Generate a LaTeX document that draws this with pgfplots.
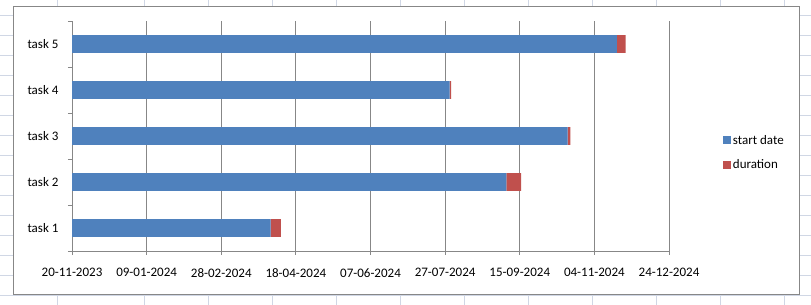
\documentclass[border=0pt]{standalone}
\usepackage{fontspec}
\setmainfont{Carlito}
\usepackage{pgfplots}
\pgfplotsset{compat=1.18}
\definecolor{xlblue}{HTML}{4F81BD}
\definecolor{xlred}{HTML}{C0504D}
\definecolor{xlgrid}{HTML}{878787}
\definecolor{cellline}{HTML}{D0D7E5}
\begin{document}
\begin{tikzpicture}
\useasboundingbox (0pt,0pt) rectangle (811pt,305pt);
\fill[white] (0pt,0pt) rectangle (811pt,305pt);
\foreach \x in {57,144,208,272,336,400,464,528,592,656,720,784}
  \draw[cellline, line width=0.8pt] (\x pt,0pt) -- (\x pt,305pt);
\foreach \y in {10,30,...,290}
  \draw[cellline, line width=0.8pt] (0pt,\y pt) -- (811pt,\y pt);
\filldraw[fill=white, draw=xlgrid, line width=1pt] (13pt,10pt) rectangle (799pt,298pt);
\begin{axis}[
  at={(72pt,54pt)}, anchor=south west,
  scale only axis, width=597pt, height=230pt,
  xbar stacked, bar width=17.7pt,
  xmin=0, xmax=400, ymin=0.5, ymax=5.5,
  axis x line*=bottom, axis y line*=left,
  axis line style={xlgrid, line width=0.9pt},
  tick style={xlgrid, line width=0.9pt},
  tick align=outside, major tick length=4pt,
  xmajorgrids, grid style={xlgrid, line width=0.9pt},
  xtick={0,50,...,400},
  xticklabels={20-11-2023,09-01-2024,28-02-2024,18-04-2024,07-06-2024,27-07-2024,15-09-2024,04-11-2024,24-12-2024},
  ytick={0.5,1.5,...,5.5},
  yticklabels={task 1,task 2,task 3,task 4,task 5,{}},
  y tick label style={yshift=23pt, xshift=-6pt},
  tick label style={font=\fontsize{13}{15}\selectfont, text=black},
  x tick label style={yshift=-10pt},
  legend style={at={(1.085,0.428)}, anchor=west, draw=none, fill=none,
    font=\fontsize{13}{15}\selectfont, row sep=10pt},
  legend cell align=left,
  legend image code/.code={\fill[#1] (0pt,-4pt) rectangle (8pt,4pt);},
]
\addplot[fill=xlblue, draw=none] coordinates {(133,1) (291,2) (332,3) (253,4) (365,5)};
\addplot[fill=xlred, draw=none] coordinates {(7,1) (10,2) (2,3) (1,4) (6,5)};
\legend{start date, duration}
\end{axis}
\end{tikzpicture}
\end{document}
